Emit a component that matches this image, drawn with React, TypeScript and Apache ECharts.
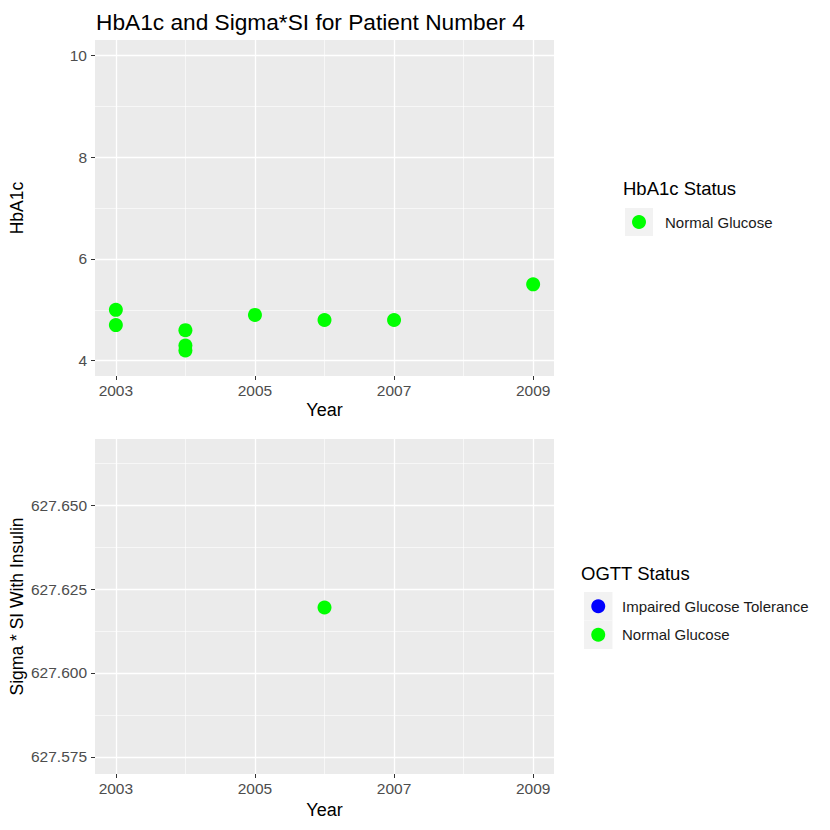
import React, { useEffect, useRef } from "react";
import * as echarts from "echarts";

// ---- data ----
const hbYears = [2003, 2003, 2004, 2004, 2004, 2005, 2006, 2007, 2009];
const hbValues = [5.0, 4.7, 4.6, 4.3, 4.2, 4.9, 4.8, 4.8, 5.5];
const siYears = [2006];
const siValues = [627.6195];

const yearTicks = [2003, 2005, 2007, 2009];
const yearMinor = [2004, 2006, 2008];
const hbTicks = [4, 6, 8, 10];
const hbMinor = [5, 7, 9];
const siTicks = [627.575, 627.6, 627.625, 627.65];
const siMinor = [627.5875, 627.6125, 627.6375, 627.6625];

const yearRange = [2002.7, 2009.3];
const hbRange = [3.7, 10.3];
const siRange = [627.5699, 627.6697];

const hbStatusNames = ["Normal Glucose"];
const hbStatusColors = ["#00ff00"];
const ogttNames = ["Impaired Glucose Tolerance", "Normal Glucose"];
const ogttColors = ["#0000ff", "#00ff00"];

const FONT = "'Liberation Sans', Arial, sans-serif";

function majorAxis(
  gridIndex: number,
  range: number[],
  ticks: number[],
  name: string,
  nameGap: number,
  nameSize: number,
  labelMargin: number,
  fmt: (v: number) => string
) {
  return {
    type: "value",
    gridIndex,
    min: range[0],
    max: range[1],
    name,
    nameLocation: "middle",
    nameGap,
    nameMoveOverlap: false,
    nameTextStyle: { color: "#000000", fontSize: nameSize, fontFamily: FONT },
    axisLine: { show: false },
    axisTick: {
      show: true,
      length: 4,
      customValues: ticks,
      lineStyle: { color: "#333333", width: 1 },
    },
    axisLabel: {
      customValues: ticks,
      margin: labelMargin,
      color: "#4d4d4d",
      fontSize: 15.5,
      fontFamily: FONT,
      formatter: fmt,
    },
    splitLine: { show: true, lineStyle: { color: "#ffffff", width: 1.3 } },
  };
}

function minorAxis(gridIndex: number, range: number[], ticks: number[]) {
  return {
    type: "value",
    gridIndex,
    min: range[0],
    max: range[1],
    axisLine: { show: false },
    axisTick: { show: false, customValues: ticks },
    axisLabel: { show: false, customValues: ticks },
    splitLine: { show: true, lineStyle: { color: "#ffffff", width: 0.6 } },
  };
}

function legendBlock(
  title: string,
  names: string[],
  colors: string[],
  titleX: number,
  titleY: number,
  keyX: number,
  keyY: number,
  keySize: number,
  labelX: number
) {
  const els: any[] = [
    {
      type: "text",
      x: titleX,
      y: titleY,
      style: {
        text: title,
        fill: "#000000",
        fontSize: 18.5,
        fontFamily: FONT,
        verticalAlign: "middle",
        align: "left",
      },
    },
  ];
  names.forEach((n, i) => {
    const y = keyY + i * keySize;
    els.push({
      type: "rect",
      shape: { x: keyX, y, width: keySize, height: keySize },
      style: { fill: "#f2f2f2" },
    });
    els.push({
      type: "circle",
      shape: { cx: keyX + keySize / 2, cy: y + keySize / 2, r: 7 },
      style: { fill: colors[i] },
    });
    els.push({
      type: "text",
      x: labelX,
      y: y + keySize / 2,
      style: {
        text: n,
        fill: "#1a1a1a",
        fontSize: 15,
        fontFamily: FONT,
        verticalAlign: "middle",
        align: "left",
      },
    });
  });
  return els;
}

export default function App() {
  const ref = useRef<HTMLDivElement>(null);
  useEffect(() => {
    if (!ref.current) return;
    const chart = echarts.init(ref.current, undefined, { renderer: "svg" });
    const yearFmt = (v: number) => String(Math.round(v));
    const option: any = {
      animation: false,
      backgroundColor: "#ffffff",
      title: {
        text: "HbA1c and Sigma*SI for Patient Number 4",
        left: 91,
        top: 5,
        textStyle: {
          color: "#000000",
          fontSize: 22.7,
          fontWeight: "normal",
          fontFamily: FONT,
        },
      },
      grid: [
        {
          left: 95, top: 40, width: 459, height: 336,
          show: true, backgroundColor: "#ebebeb", borderWidth: 0,
          outerBoundsMode: "none", containLabel: false,
        },
        {
          left: 95, top: 439, width: 459, height: 335,
          show: true, backgroundColor: "#ebebeb", borderWidth: 0,
          outerBoundsMode: "none", containLabel: false,
        },
      ],
      xAxis: [
        majorAxis(0, yearRange, yearTicks, "Year", 25, 18, 6, yearFmt),
        minorAxis(0, yearRange, yearMinor),
        majorAxis(1, yearRange, yearTicks, "Year", 27, 18, 6, yearFmt),
        minorAxis(1, yearRange, yearMinor),
      ],
      yAxis: [
        majorAxis(0, hbRange, hbTicks, "HbA1c", 69, 17.5, 8, (v: number) => String(Math.round(v))),
        minorAxis(0, hbRange, hbMinor),
        majorAxis(1, siRange, siTicks, "Sigma * SI With Insulin", 69, 17.5, 8, (v: number) => v.toFixed(3)),
        minorAxis(1, siRange, siMinor),
      ],
      series: [
        {
          type: "scatter",
          name: hbStatusNames[0],
          xAxisIndex: 0,
          yAxisIndex: 0,
          symbolSize: 14,
          itemStyle: { color: hbStatusColors[0], opacity: 1 },
          data: hbYears.map((y, i) => [y, hbValues[i]]),
        },
        {
          type: "scatter",
          name: ogttNames[0],
          xAxisIndex: 2,
          yAxisIndex: 2,
          symbolSize: 14,
          itemStyle: { color: ogttColors[0], opacity: 1 },
          data: [],
        },
        {
          type: "scatter",
          name: ogttNames[1],
          xAxisIndex: 2,
          yAxisIndex: 2,
          symbolSize: 14,
          itemStyle: { color: ogttColors[1], opacity: 1 },
          data: siYears.map((y, i) => [y, siValues[i]]),
        },
      ],
      graphic: [
        ...legendBlock("HbA1c Status", hbStatusNames, hbStatusColors, 623, 188.5, 625, 208, 28, 665),
        ...legendBlock("OGTT Status", ogttNames, ogttColors, 581, 573.5, 584, 592, 28.5, 622),
      ],
    };
    chart.setOption(option);
    return () => chart.dispose();
  }, []);
  return (
    <div
      ref={ref}
      style={{ position: "fixed", left: 0, top: 0, width: 830, height: 830 }}
    />
  );
}
